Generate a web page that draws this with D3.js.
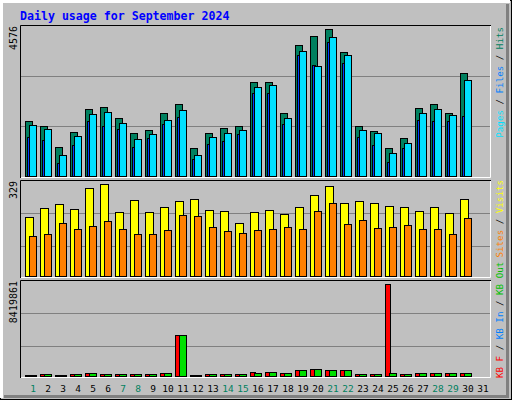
<!DOCTYPE html>
<html><head><meta charset="utf-8">
<script src="https://cdn.jsdelivr.net/npm/d3@7"></script>
<style>body{margin:0;background:#fff}svg{display:block}text{font-family:"DejaVu Sans Mono",monospace}</style>
</head><body>
<script>
const days = d3.range(1,32);
const weekends = [1,7,8,14,15,21,22,28,29];
const hits  = [1673,1521,885,1339,2036,2097,1764,1309,1400,1915,2188,855,1309,1461,1521,2855,2855,1915,3976,4248,4461,3764,1521,1370,855,1158,2067,2188,1915,3127,0];
const files = [1551,1430,642,1218,1885,1945,1612,1127,1279,1703,2006,642,1188,1309,1400,2703,2764,1764,3794,3339,4218,3673,1400,1309,703,1006,1915,2036,1855,2915,0];
const pages = [1197,1097,400,945,1673,1521,1430,885,1158,1582,1794,521,976,1067,1279,2521,2521,1606,3673,3370,4067,3430,1188,945,430,855,1727,1697,1697,1824,0];
const visits= [205,235,248,232,301,315,222,262,222,238,258,265,228,225,185,222,228,215,238,278,308,252,258,252,242,238,225,238,218,265,0];
const sites = [142,149,185,165,175,192,165,149,149,162,212,208,172,159,152,162,165,172,165,225,252,182,195,168,172,178,165,165,149,202,0];
const kbF   = [280000,450000,280000,450000,536000,450000,450000,450000,450000,536000,3768000,280000,450000,450000,450000,621000,621000,536000,791000,876000,791000,791000,450000,450000,8105000,450000,536000,536000,536000,536000,0];
const kbOut = [280000,450000,280000,450000,536000,450000,450000,450000,450000,536000,3768000,280000,450000,450000,450000,536000,621000,536000,791000,876000,791000,791000,450000,450000,536000,450000,536000,536000,536000,536000,0];
const maxHits = 4576, maxVisits = 329, maxKB = 8419861;
const title = "Daily usage for September 2024";

const W=512,H=400;
const svg=d3.select("body").append("svg").attr("width",W).attr("height",H);
svg.append("rect").attr("width",W).attr("height",H).attr("fill","#C0C0C0");
svg.append("rect").attr("x",0.5).attr("y",0.5).attr("width",W-1).attr("height",H-1).attr("fill","none").attr("stroke","#000");
svg.append("path").attr("d","M1.5,398V1.5H510").attr("fill","none").attr("stroke","#fff").attr("stroke-width",3);
svg.append("path").attr("d","M4,396.5H507.5V4").attr("fill","none").attr("stroke","#808080").attr("stroke-width",3);

svg.append("text").attr("x",20).attr("y",20).attr("fill","#0000FF").attr("font-weight","bold")
  .attr("font-size","11.6px").text(title);

const x=d3.scaleLinear().domain([1,31]).range([25,475]);
const panels=[{t:25,b:178},{t:180,b:278},{t:280,b:378}];
panels.forEach(p=>{
  svg.append("path").attr("d",`M20.5,${p.b}V${p.t+0.5}H491`).attr("fill","none").attr("stroke","#000");
  svg.append("path").attr("d",`M21,${p.b-0.5}H490.5V${p.t+1}`).attr("fill","none").attr("stroke","#fff");
});
function grid(y){[1/3,2/3].forEach(f=>{const yy=Math.round(y(y.domain()[1]*f))+0.5;
  svg.append("line").attr("x1",21).attr("x2",490).attr("y1",yy).attr("y2",yy).attr("stroke","#808080");});}
function bars(data,y,off,w,fill,base){
  const top=v=>Math.min(Math.round(y(v)),base-2);
  svg.append("g").selectAll("rect").data(data.map((v,i)=>({v,d:i+1})).filter(o=>o.v>0)).join("rect")
   .attr("x",o=>x(o.d)+off+0.5).attr("width",w-1)
   .attr("y",o=>top(o.v)+0.5)
   .attr("height",o=>base-top(o.v)-1)
   .attr("fill",fill).attr("stroke","#000");
}
const y1=d3.scaleLinear().domain([0,maxHits]).range([176.5,25.5]);
grid(y1);
bars(hits,y1,0,8,"#00805F",177);
bars(pages,y1,2,4,"#0040FF",177);
bars(files,y1,4,8,"#00E0FF",177);
const y2=d3.scaleLinear().domain([0,maxVisits]).range([279,180]);
grid(y2);
bars(visits,y2,0,9,"#FFFF00",277);
bars(sites,y2,4,8,"#FF8000",277);
const y3=d3.scaleLinear().domain([0,maxKB]).range([379.3,280]);
grid(y3);
bars(kbF,y3,0,6,"#FF0000",377);
bars(kbOut,y3,4,8,"#00E000",377);

function vlabel(xp,yp,anchor,size,parts){
  const t=svg.append("text").attr("transform",`translate(${xp},${yp}) rotate(-90)`).attr("text-anchor",anchor).attr("font-size",size);
  parts.forEach(([s,c])=>t.append("tspan").attr("fill",c).text(s));
}
vlabel(17,26,"end","10px",[[String(maxHits),"#000"]]);
vlabel(17,181,"end","10px",[[String(maxVisits),"#000"]]);
vlabel(17,281,"end","10px",[[String(maxKB),"#000"]]);
vlabel(503,27,"end","9.2px",[["Pages","#00E0FF"],[" / ","#000"],["Files","#0080FF"],[" / ","#000"],["Hits","#00805F"]]);
vlabel(503,180,"end","9.2px",[["Sites","#FF8000"],[" / ","#000"],["Visits","#FFFF00"]]);
vlabel(503,378,"start","9.2px",[["KB F","#FF0000"],[" / ","#000"],["KB In","#0080FF"],[" / ","#000"],["KB Out","#00C000"]]);

svg.append("g").selectAll("text").data(days).join("text")
  .attr("x",d=>x(d)+8).attr("y",392).attr("text-anchor","middle").attr("font-size","9.5px")
  .attr("fill",d=>weekends.includes(d)?"#00805F":"#000").text(d=>d);
</script>
</body></html>
